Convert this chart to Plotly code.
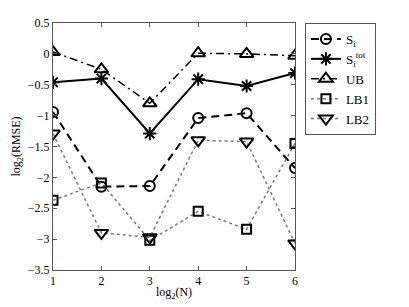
import plotly.graph_objects as go

x_vals = [1, 2, 3, 4, 5, 6]
s_i = [-0.94, -2.15, -2.14, -1.04, -0.96, -1.85]
s_tot = [-0.46, -0.40, -1.29, -0.41, -0.52, -0.31]
ub = [0.03, -0.25, -0.80, 0.01, 0.0, -0.03]
lb1 = [-2.37, -2.09, -3.02, -2.55, -2.84, -1.45]
lb2 = [-1.29, -2.90, -2.97, -1.40, -1.42, -3.07]

names = ["S<sub>i</sub>", "S<sub>i</sub><sup>tot</sup>", "UB", "LB1", "LB2"]
series = [s_i, s_tot, ub, lb1, lb2]
symbols = ["circle-open", "asterisk-open", "triangle-up-open", "square-open", "triangle-down-open"]
dashes = ["8px,5px", "solid", "8px,4px,2px,4px", "dot", "dot"]
line_colors = ["black", "black", "black", "#777777", "#777777"]
line_widths = [2, 2, 1.5, 1.5, 1.5]
marker_sizes = [10, 11, 12, 9, 12]

fig = go.Figure()
for nm, ys, sym, ds, lc, lw, ms in zip(names, series, symbols, dashes, line_colors, line_widths, marker_sizes):
    fig.add_trace(go.Scatter(
        x=x_vals, y=ys, name=nm, mode="lines+markers",
        line=dict(color=lc, width=lw, dash=ds),
        marker=dict(symbol=sym, size=ms, color="black", line=dict(color="black", width=2)),
    ))

font = dict(family="Liberation Serif", size=12, color="black")
fig.update_layout(
    width=401, height=299,
    margin=dict(l=45, r=114, t=15, b=37, autoexpand=False),
    paper_bgcolor="white", plot_bgcolor="white",
    font=font,
    showlegend=True,
    legend=dict(x=1.041, y=1.0, xanchor="left", yanchor="top",
                bordercolor="#555555", borderwidth=1, bgcolor="white",
                font=dict(family="Liberation Serif", size=13, color="black"),
                tracegroupgap=0, itemwidth=30),
)
fig.update_xaxes(
    range=[1, 6], tickvals=x_vals, ticks="inside", ticklen=4, tickcolor="#555555",
    showline=True, linecolor="#555555", linewidth=1, mirror="ticks",
    showgrid=False, zeroline=False, automargin=False,
    title=dict(text="log<sub>2</sub>(N)", standoff=0, font=font),
)
fig.update_yaxes(
    range=[-3.5, 0.5], tickvals=[-3.5, -3, -2.5, -2, -1.5, -1, -0.5, 0, 0.5],
    ticktext=["\u22123.5", "\u22123", "\u22122.5", "\u22122", "\u22121.5", "\u22121", "\u22120.5", "0", "0.5"],
    ticks="inside", ticklen=4, tickcolor="#555555",
    showline=True, linecolor="#555555", linewidth=1, mirror="ticks",
    showgrid=False, zeroline=False, automargin=False,
    title=dict(text="log<sub>2</sub>(RMSE)", standoff=4, font=font),
)
fig.write_html("out.html")
